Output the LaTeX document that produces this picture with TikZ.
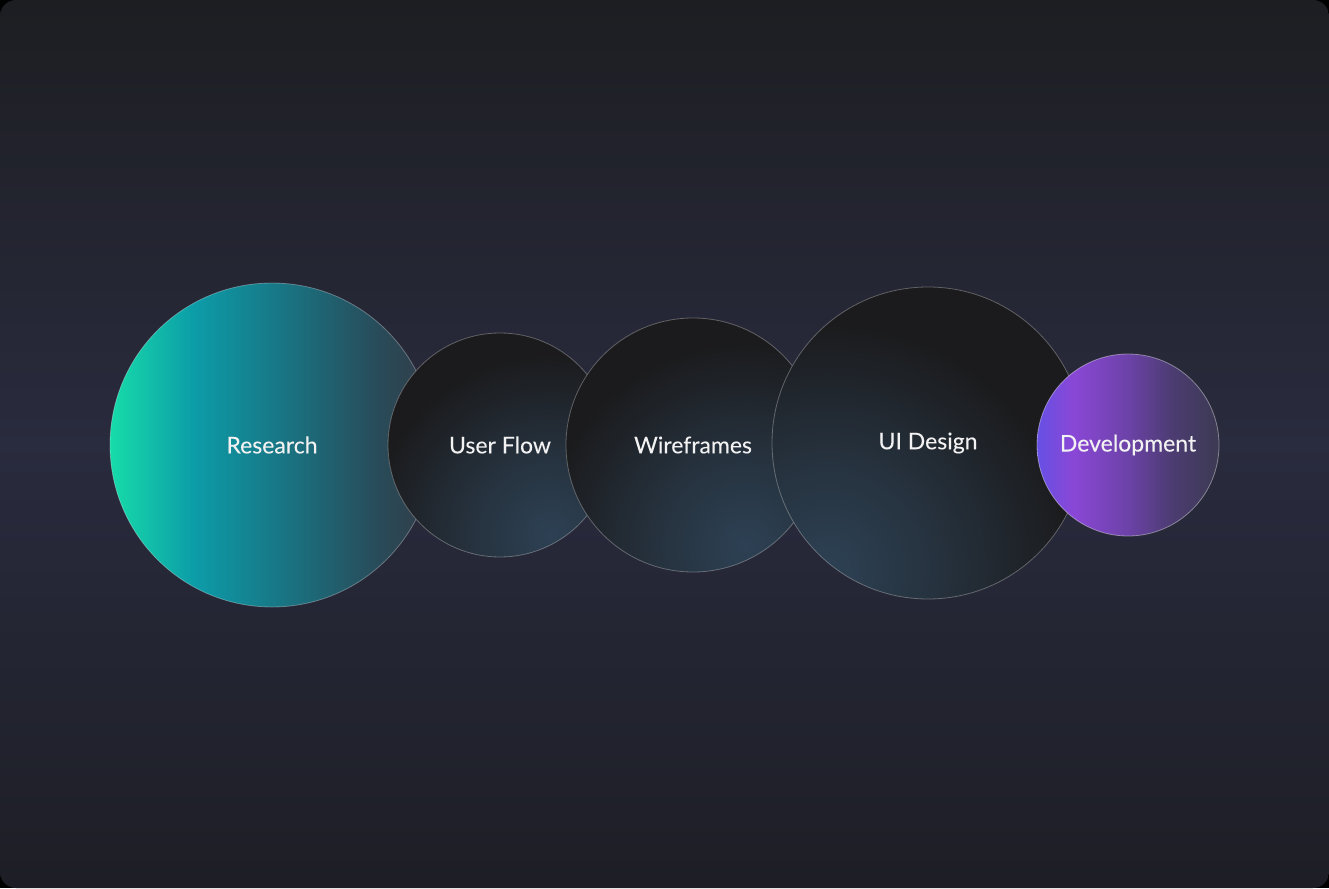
\documentclass[tikz,border=0pt]{standalone}
\usepackage{fontspec}
\setmainfont{Lato}
\newfontfamily\stagefont[FakeBold=1.6]{Lato}
\usetikzlibrary{positioning}

\definecolor{bgtop}{HTML}{1D1E22}
\definecolor{bgmid}{HTML}{292B3E}
\definecolor{bgbot}{HTML}{1D1E25}
\definecolor{darkbase}{HTML}{1B1B1D}
\definecolor{glowblue}{HTML}{2D4154}
\definecolor{labelwhite}{HTML}{F2F2F2}

\definecolor{rsA}{HTML}{17DCA9}
\definecolor{rsB}{HTML}{0C9CA8}
\definecolor{rsC}{HTML}{1B6E7D}
\definecolor{rsD}{HTML}{284C5A}
\definecolor{rsE}{HTML}{333B47}

\definecolor{dvA}{HTML}{6650E4}
\definecolor{dvB}{HTML}{8A47D6}
\definecolor{dvC}{HTML}{6C42A8}
\definecolor{dvD}{HTML}{4C3C72}
\definecolor{dvE}{HTML}{3C3A52}

\pgfdeclarehorizontalshading{researchshade}{100bp}{color(0bp)=(rsA); color(25bp)=(rsA); color(38bp)=(rsB); color(54bp)=(rsC); color(66bp)=(rsD); color(75bp)=(rsE); color(100bp)=(rsE)}
\pgfdeclarehorizontalshading{developshade}{100bp}{color(0bp)=(dvA); color(25bp)=(dvA); color(35bp)=(dvB); color(50bp)=(dvC); color(62bp)=(dvD); color(75bp)=(dvE); color(100bp)=(dvE)}
\colorlet{glowmid}{glowblue!60!darkbase}
\pgfdeclareradialshading{glowshade}{\pgfpointorigin}{color(0bp)=(glowblue); color(8bp)=(glowmid); color(18bp)=(darkbase); color(50bp)=(darkbase)}

\tikzset{
	stage/.style = {circle, draw = white, draw opacity = 0.3, line width = 0.8pt, inner sep = 0pt,
		text = labelwhite, font = \stagefont\fontsize{23}{27}\selectfont},
	darkstage/.style = {stage, fill = darkbase}
}

\begin{document}
\begin{tikzpicture}[x = 1pt, y = -1pt]

	% Background

	\useasboundingbox (0, 0) rectangle (1329, 888);
	\fill [black] (0, 0) rectangle (1329, 888);
	\shade [rounded corners = 16pt, top color = bgtop, bottom color = bgbot, middle color = bgmid]
		(0, 0) rectangle (1329, 888);

	% Stages, drawn left to right

	\node [stage, shading = researchshade, minimum size = 324pt] (research) at (272, 445) {Research};

	\foreach \name/\x/\y/\d/\gx/\gy/\gr/\txt in {
		userflow/500/445/224/50/90/250/User Flow,
		wireframes/693/445/254/52/100/280/Wireframes,
		uidesign/928/443/312/-100/125/340/UI Design}
	{
		\node [darkstage, minimum size = \d pt,
			path picture = {\shade [shading = glowshade]
				([shift = {(\gx, \gy)}] path picture bounding box.center) circle (\gr);}]
			(\name) at (\x, \y) {\txt};
	}

	\node [stage, shading = developshade, draw opacity = 0.4, minimum size = 182pt] (development) at (1128, 445) {Development};

\end{tikzpicture}
\end{document}
